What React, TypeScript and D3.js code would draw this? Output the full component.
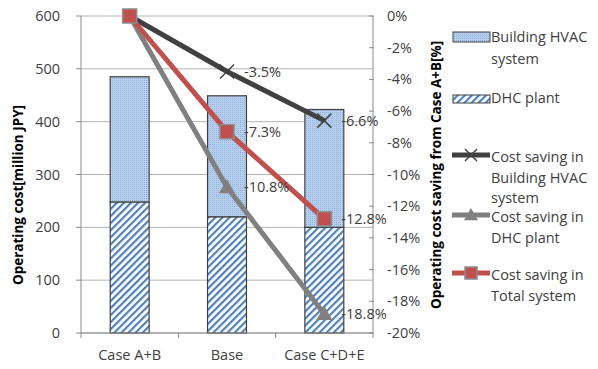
import React from "react";
import * as d3 from "d3";

const categories = ["Case A+B", "Base", "Case C+D+E"];
const dhcPlant = [248, 220, 200];
const buildingHvac = [237, 229, 223];
const savingHvac = [0, -3.5, -6.6];
const savingDhc = [0, -10.8, -18.8];
const savingTotal = [0, -7.3, -12.8];
const leftTicks = [0, 100, 200, 300, 400, 500, 600];
const rightTicks = [0, -2, -4, -6, -8, -10, -12, -14, -16, -18, -20];

const W = 598;
const H = 369;
const margin = { top: 16, right: 225, bottom: 36, left: 81 };
const FONT = "'Open Sans', 'Noto Sans', sans-serif";
const FS = 14.5;

const lineSeries = [
  { name: ["Cost saving in", "Building HVAC", "system"], values: savingHvac, color: "#404040", marker: "x" },
  { name: ["Cost saving in", "DHC plant"], values: savingDhc, color: "#808080", marker: "tri" },
  { name: ["Cost saving in", "Total system"], values: savingTotal, color: "#C0504D", marker: "sq" },
];

function Marker({ type, x, y, color, s = 7 }: { type: string; x: number; y: number; color: string; s?: number }) {
  if (type === "x") {
    return (
      <g stroke={color} strokeWidth={1.5}>
        <line x1={x - s} y1={y - s} x2={x + s} y2={y + s} />
        <line x1={x - s} y1={y + s} x2={x + s} y2={y - s} />
      </g>
    );
  }
  if (type === "tri") {
    const t = s + 1;
    return <path d={`M${x},${y - t}L${x + t},${y + t * 0.75}L${x - t},${y + t * 0.75}Z`} fill={color} />;
  }
  return <rect x={x - s} y={y - s} width={2 * s} height={2 * s} fill={color} stroke="#8c8c8c" strokeWidth={1.5} />;
}

export default function App() {
  const x0 = margin.left;
  const x1 = W - margin.right;
  const y0 = H - margin.bottom;
  const y1 = margin.top;

  const x = d3.scaleBand<string>().domain(categories).range([x0, x1]).paddingInner(0.6).paddingOuter(0.3);
  const xb = d3.scaleBand<string>().domain(categories).range([x0, x1]);
  const yL = d3.scaleLinear().domain([0, 600]).range([y0, y1]);
  const yR = d3.scaleLinear().domain([-20, 0]).range([y0, y1]);

  const stacked = d3
    .stack<number>()
    .keys(["dhc", "hvac"])
    .value((i, key) => (key === "dhc" ? dhcPlant[i] : buildingHvac[i]))(categories.map((_, i) => i));

  const fills = ["url(#stripes)", "url(#dots)"];
  const lineGen = d3
    .line<number>()
    .x((_, i) => (xb(categories[i]) ?? 0) + xb.bandwidth() / 2)
    .y((v) => yR(v));

  const lx = 452;

  return (
    <svg width={W} height={H} style={{ position: "absolute", left: 0, top: 0, background: "#fff" }} fontFamily={FONT}>
      <defs>
        <pattern id="stripes" patternUnits="userSpaceOnUse" width={5} height={5} patternTransform="rotate(45)">
          <rect width={5} height={5} fill="#fff" />
          <rect width={2.2} height={5} fill="#4F81BD" />
        </pattern>
        <pattern id="dots" patternUnits="userSpaceOnUse" width={2} height={2}>
          <rect width={2} height={2} fill="#B9D0EE" />
          <rect width={1} height={1} fill="#8AAEDC" />
        </pattern>
      </defs>

      {/* grid */}
      {leftTicks.map((t) => (
        <line key={t} x1={x0} x2={x1} y1={yL(t)} y2={yL(t)} stroke="#b3b3b3" strokeWidth={1} />
      ))}

      {/* bars */}
      {stacked.map((layer, li) =>
        layer.map((d, i) => (
          <rect
            key={`${li}-${i}`}
            x={x(categories[i])}
            width={x.bandwidth()}
            y={yL(d[1])}
            height={yL(d[0]) - yL(d[1])}
            fill={fills[li]}
            stroke="#404040"
            strokeWidth={1.2}
          />
        ))
      )}

      {/* axes */}
      <line x1={x0} x2={x0} y1={y1} y2={y0} stroke="#8c8c8c" />
      <line x1={x1} x2={x1} y1={y1} y2={y0} stroke="#8c8c8c" />
      <line x1={x0} x2={x1} y1={y0} y2={y0} stroke="#8c8c8c" />
      {leftTicks.map((t) => (
        <g key={t}>
          <line x1={x0 - 5} x2={x0} y1={yL(t)} y2={yL(t)} stroke="#8c8c8c" />
          <text x={x0 - 21} y={yL(t)} dy="0.35em" textAnchor="end" fontSize={FS} fill="#404040">
            {t}
          </text>
        </g>
      ))}
      {rightTicks.map((t) => (
        <g key={t}>
          <line x1={x1 - 4} x2={x1 + 1} y1={yR(t)} y2={yR(t)} stroke="#8c8c8c" />
          <text x={x1 + 14} y={yR(t)} dy="0.35em" fontSize={FS} fill="#404040">
            {t}%
          </text>
        </g>
      ))}
      {categories.map((c) => (
        <g key={c}>
          <line x1={(xb(c) ?? 0) + xb.bandwidth()} x2={(xb(c) ?? 0) + xb.bandwidth()} y1={y0} y2={y0 + 5} stroke="#8c8c8c" />
          <text x={(xb(c) ?? 0) + xb.bandwidth() / 2} y={y0 + 27} textAnchor="middle" fontSize={FS} fill="#404040">
            {c}
          </text>
        </g>
      ))}
      <line x1={x0} x2={x0} y1={y0} y2={y0 + 5} stroke="#8c8c8c" />

      {/* axis titles */}
      <text transform={`translate(23,195) rotate(-90)`} textAnchor="middle" fontSize={13.5} fontWeight="bold" fill="#000">
        Operating cost[million JPY]
      </text>
      <text transform={`translate(441,175) rotate(-90)`} textAnchor="middle" fontSize={13.5} fontWeight="bold" fill="#000">
        Operating cost saving from Case A+B[%]
      </text>

      {/* lines */}
      {lineSeries.map((s) => (
        <path key={s.color} d={lineGen(s.values) ?? ""} fill="none" stroke={s.color} strokeWidth={5} />
      ))}
      {lineSeries.map((s) =>
        s.values.map((v, i) => (
          <Marker key={`${s.color}-${i}`} type={s.marker} x={(xb(categories[i]) ?? 0) + xb.bandwidth() / 2} y={yR(v)} color={s.color} />
        ))
      )}
      {lineSeries.map((s) =>
        s.values.map((v, i) =>
          i === 0 ? null : (
            <text key={`l-${s.color}-${i}`} x={(xb(categories[i]) ?? 0) + xb.bandwidth() / 2 + 17} y={yR(v)} dy="0.35em" fontSize={FS} fill="#404040">
              {v.toFixed(1)}%
            </text>
          )
        )
      )}

      {/* legend */}
      <rect x={lx + 1} y={32} width={37} height={10} fill="url(#dots)" stroke="#404040" />
      <text x={491} y={37} dy="0.35em" fontSize={FS} fill="#404040">Building HVAC</text>
      <text x={491} y={59} dy="0.35em" fontSize={FS} fill="#404040">system</text>
      <rect x={lx + 1} y={95} width={37} height={8} fill="url(#stripes)" stroke="#404040" />
      <text x={491} y={98} dy="0.35em" fontSize={FS} fill="#404040">DHC plant</text>
      {lineSeries.map((s, i) => {
        const ly = [155, 215, 273][i];
        return (
          <g key={s.color}>
            <line x1={lx} x2={lx + 38} y1={ly} y2={ly} stroke={s.color} strokeWidth={5} />
            <Marker type={s.marker} x={lx + 19} y={ly} color={s.color} s={6} />
            {s.name.map((n, j) => (
              <text key={j} x={491} y={ly + 2 + j * 20.5} dy="0.35em" fontSize={FS} fill="#404040">
                {n}
              </text>
            ))}
          </g>
        );
      })}
    </svg>
  );
}
